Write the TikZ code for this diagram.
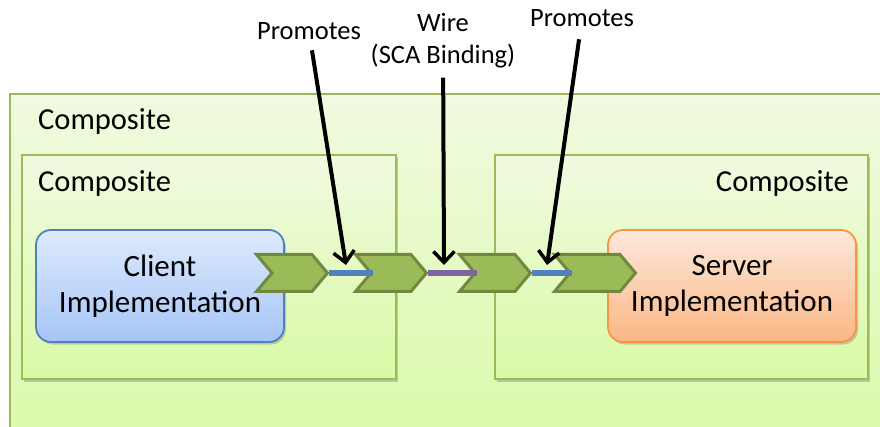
\documentclass[tikz,border=0pt]{standalone}
\usepackage{fontspec}
\setmainfont{Carlito}
\usetikzlibrary{arrows.meta, positioning, shapes.symbols, shadows}

\definecolor{compline}{HTML}{9BBB59}
\definecolor{comptop}{HTML}{F0FAE0}
\definecolor{compbot}{HTML}{DAFAA6}
\definecolor{chevfill}{HTML}{9BBB59}
\definecolor{chevline}{HTML}{71893F}
\definecolor{clientline}{HTML}{4F81BD}
\definecolor{clienttop}{HTML}{DDEAFC}
\definecolor{clientbot}{HTML}{A6C5F6}
\definecolor{serverline}{HTML}{F79646}
\definecolor{servertop}{HTML}{FDE8DC}
\definecolor{serverbot}{HTML}{FBB783}
\definecolor{promline}{HTML}{4F81BD}
\definecolor{wireline}{HTML}{8064A2}

\begin{document}
\begin{tikzpicture}[x=1pt, y=-1pt,
  comp/.style={draw=compline, line width=1.8pt, top color=comptop, bottom color=compbot},
  compshadow/.style={comp, drop shadow={shadow xshift=2pt, shadow yshift=-2.5pt, opacity=0.4}},
  complabel/.style={inner sep=0pt, font=\fontsize{30.5}{36}\selectfont},
  impl/.style={rounded corners=15pt, line width=1.8pt, minimum width=248, minimum height=112,
               align=center, font=\fontsize{31}{36}\selectfont,
               drop shadow={shadow xshift=2pt, shadow yshift=-2.5pt, opacity=0.4}},
  chev/.style={signal, signal to=east, signal from=west, signal pointer angle=100,
               fill=chevfill, draw=chevline, line width=3pt, minimum width=71, minimum height=37,
               inner sep=0pt},
  bind/.style={line width=5.5pt},
  lab/.style={align=center, inner sep=2pt, font=\fontsize{26.5}{32}\selectfont},
  promo/.style={-{Straight Barb[length=11pt, width=21pt, line width=3.5pt]}, line width=4pt}
]
\useasboundingbox (0,0) rectangle (880,427);
\clip (0,0) rectangle (880,427);

% outer composite
\path[comp] (10,94) rectangle (900,460);
\node[complabel, anchor=base west] (outerlab) at (38,130) {Composite};

% inner composites
\path[compshadow] (22,155) rectangle (396,379);
\path[compshadow] (495,155) rectangle (868,379);
\node[complabel, anchor=base west] (leftlab) at (38,192) {Composite};
\node[complabel, anchor=base east] (rightlab) at (849,192) {Composite};

% implementations
\node[impl, draw=clientline, top color=clienttop, bottom color=clientbot] (client) at (160,286) {Client\\Implementation};
\node[impl, draw=serverline, top color=servertop, bottom color=serverbot] (server) at (732,286) {Server\\Implementation};

% services / references
\node[chev] (c1) at (292,273) {};
\node[chev] (c2) at (391,273) {};
\node[chev] (c3) at (495,273) {};
\node[chev, minimum width=81] (c4) at (595,273) {};

\draw[bind, promline] (c1.east) -- ([xshift=4pt]c2.west);
\draw[bind, wireline] (c2.east) -- ([xshift=4pt]c3.west);
\draw[bind, promline] (c3.east) -- ([xshift=4pt]c4.west);

% callouts
\node[lab, anchor=base] (prom1) at (309,40) {Promotes};
\node[lab] (wire) at (443,41) {Wire\\(SCA Binding)};
\node[lab, anchor=base] (prom2) at (582,27) {Promotes};

\coordinate (tip1) at (346,265);
\coordinate (tip2) at (444,265);
\coordinate (tip3) at (547,265);

\draw[promo, shorten <=8pt] (prom1) -- (tip1);
\draw[promo, shorten <=7pt] (wire) -- (tip2);
\draw[promo, shorten <=10pt] (prom2) -- (tip3);
\end{tikzpicture}
\end{document}
